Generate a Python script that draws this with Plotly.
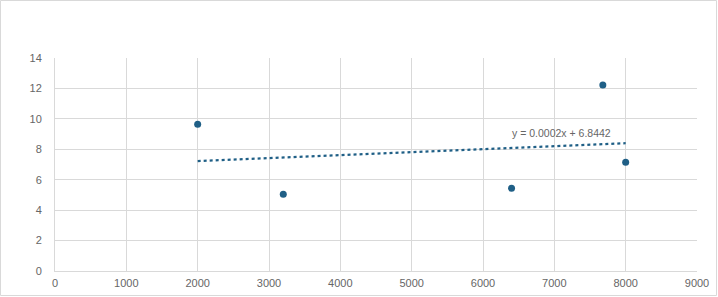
import numpy as np
import plotly.graph_objects as go

x_vals = [2000, 3200, 6400, 7680, 8000]
y_vals = [9.65, 5.05, 5.44, 12.22, 7.15]
x_ticks = [0, 1000, 2000, 3000, 4000, 5000, 6000, 7000, 8000, 9000]
y_ticks = [0, 2, 4, 6, 8, 10, 12, 14]
trend_label = "y = 0.0002x + 6.8442"

slope, intercept = np.polyfit(x_vals, y_vals, 1)
tx = [min(x_vals), max(x_vals)]
ty = [slope * v + intercept for v in tx]

COLOR = "#1F5F86"
FONT = "Liberation Sans Narrow, Arial Narrow, Liberation Sans, Arial"
TXT = "#666666"

fig = go.Figure()
fig.add_trace(go.Scatter(x=tx, y=ty, mode="lines",
                         line=dict(color=COLOR, width=2.25, dash="dot"),
                         hoverinfo="skip", showlegend=False))
fig.add_trace(go.Scatter(x=x_vals, y=y_vals, mode="markers",
                         marker=dict(color=COLOR, size=7),
                         showlegend=False))

fig.add_annotation(x=7100, y=9.1, text=trend_label, showarrow=False,
                   font=dict(family=FONT, size=10.5, color=TXT))

fig.add_shape(type="rect", xref="paper", yref="paper",
              x0=(0.5 - 55) / 642, x1=(716.5 - 55) / 642,
              y0=(271 - 295.5) / 213, y1=(271 - 0.5) / 213,
              line=dict(color="#D9D9D9", width=1), layer="below")

fig.update_layout(
    width=718, height=297,
    margin=dict(l=55, r=21, t=58, b=26),
    plot_bgcolor="white", paper_bgcolor="white",
    font=dict(family=FONT, size=11, color=TXT),
    xaxis=dict(range=[0, 9000], tickvals=x_ticks, ticktext=[str(v) for v in x_ticks],
               showgrid=True, gridcolor="#D9D9D9", gridwidth=1, automargin=False,
               zeroline=False, showline=True, linecolor="#D9D9D9",
               ticks="outside", ticklen=2, tickcolor="rgba(0,0,0,0)",
               tickfont=dict(size=11, color=TXT), mirror=False),
    yaxis=dict(range=[0, 14], tickvals=y_ticks, ticktext=[str(v) for v in y_ticks],
               showgrid=True, gridcolor="#D9D9D9", gridwidth=1, automargin=False,
               zeroline=False, showline=True, linecolor="#D9D9D9",
               ticks="outside", ticklen=10, tickcolor="rgba(0,0,0,0)",
               tickfont=dict(size=11, color=TXT)),
)

fig.write_html("out.html")
